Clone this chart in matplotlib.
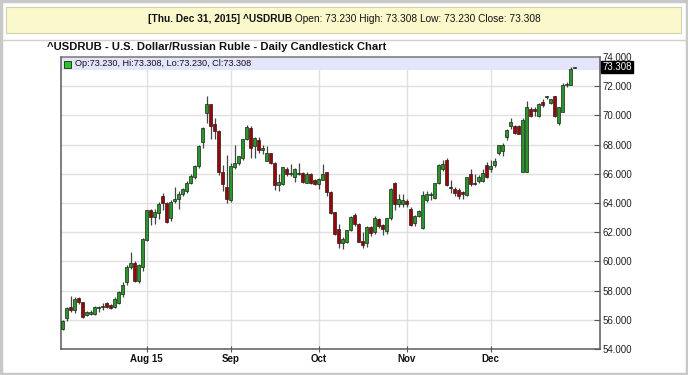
import matplotlib
matplotlib.use("Agg")
import matplotlib.pyplot as plt
from matplotlib.patches import Rectangle
import numpy as np

plt.rcParams['font.family'] = ['Liberation Sans', 'DejaVu Sans']

# ---- data (index = trading day, Jul 3 2015 .. Dec 31 2015) ----
opens = [55.40, 56.15, 56.87, 56.64, 57.50, 57.20, 56.35, 56.40, 56.40, 56.80,
         56.90, 57.15, 57.00, 56.87, 57.15, 57.80, 58.60, 59.60, 59.90, 58.65,
         59.60, 61.45, 63.50, 63.05, 63.30, 64.50, 64.00, 62.95, 64.15, 64.25,
         64.62, 64.80, 65.40, 65.77, 66.55, 68.15, 70.17, 70.75, 69.40, 68.90,
         66.10, 65.10, 64.20, 66.45, 66.75, 67.10, 68.35, 69.15, 67.90, 68.30,
         67.60, 66.90, 67.40, 66.73, 65.20, 65.30, 66.35, 66.00, 65.80, 66.00,
         66.05, 65.40, 66.00, 65.60, 65.30, 65.60, 66.10, 64.75, 63.35, 62.20,
         61.25, 61.30, 62.15, 63.15, 62.55, 61.40, 61.25, 62.35, 62.00, 62.90,
         62.50, 62.05, 62.95, 65.40, 63.90, 63.95, 64.15, 63.60, 62.60, 63.10,
         62.30, 64.20, 64.55, 64.35, 65.35, 66.35, 66.95, 65.10, 64.95, 64.90,
         64.75, 64.55, 66.00, 65.40, 65.50, 65.50, 66.60, 66.35, 66.60, 67.40,
         67.55, 68.50, 69.30, 69.30, 69.30, 66.15, 66.15, 70.45, 70.45, 69.95,
         70.90, 71.25, 70.85, 71.30, 69.45, 70.25, 72.10, 72.10, 73.230]
highs = [56.00, 56.90, 57.60, 57.55, 57.55, 57.25, 56.60, 56.65, 56.95, 56.95,
         57.15, 57.20, 57.05, 57.55, 58.00, 58.60, 59.75, 60.65, 60.00, 59.85,
         61.60, 63.55, 63.60, 63.60, 64.05, 64.67, 64.10, 64.20, 65.10, 64.80,
         65.05, 65.50, 66.00, 66.60, 67.95, 69.20, 71.30, 70.80, 69.80, 69.00,
         66.60, 67.30, 66.75, 67.95, 67.25, 68.40, 69.35, 69.25, 68.55, 68.50,
         68.00, 67.93, 67.45, 66.80, 66.00, 66.50, 66.50, 66.68, 66.40, 66.73,
         66.10, 66.10, 66.05, 65.65, 65.70, 66.64, 66.15, 64.85, 63.40, 62.55,
         61.70, 62.15, 63.10, 63.30, 62.60, 62.00, 62.40, 62.40, 63.10, 63.00,
         62.55, 63.00, 65.00, 65.45, 64.60, 64.60, 64.25, 63.70, 63.20, 63.55,
         64.80, 64.80, 64.75, 65.40, 66.65, 66.95, 67.05, 65.60, 65.10, 65.00,
         64.85, 65.80, 66.35, 66.00, 65.90, 66.30, 66.80, 66.95, 67.10, 68.00,
         68.10, 69.10, 69.80, 69.35, 69.35, 69.85, 71.00, 70.60, 70.60, 70.85,
         71.15, 71.35, 71.15, 71.35, 70.60, 72.20, 72.30, 73.30, 73.308]
lows = [55.30, 55.95, 56.53, 56.50, 57.10, 56.10, 56.25, 56.30, 56.30, 56.55,
        56.65, 56.80, 56.75, 56.80, 57.10, 57.55, 58.40, 59.50, 58.60, 58.55,
        59.35, 61.40, 62.50, 62.55, 62.90, 63.55, 62.60, 62.80, 64.00, 63.60,
        64.50, 64.70, 65.30, 65.65, 66.40, 67.80, 69.50, 68.35, 68.35, 65.95,
        64.85, 64.00, 64.10, 66.30, 66.60, 66.95, 68.30, 67.10, 67.10, 67.40,
        67.35, 66.85, 66.65, 64.86, 64.80, 65.25, 65.82, 65.82, 65.45, 65.95,
        65.40, 65.35, 65.28, 65.20, 64.98, 65.55, 64.50, 63.25, 61.80, 60.90,
        60.85, 61.25, 62.10, 62.40, 61.30, 60.95, 61.00, 61.75, 61.90, 62.30,
        61.80, 61.90, 62.85, 63.55, 63.75, 63.75, 63.75, 62.40, 62.40, 63.05,
        62.25, 64.10, 64.20, 64.30, 65.30, 66.20, 65.15, 64.70, 64.50, 64.30,
        64.30, 64.50, 65.15, 65.20, 65.40, 65.45, 65.70, 66.10, 66.50, 67.30,
        67.20, 68.30, 69.05, 68.70, 68.70, 66.10, 66.10, 69.90, 69.95, 69.90,
        70.60, 71.10, 70.80, 69.90, 69.35, 70.20, 71.95, 72.05, 73.230]
closes = [55.95, 56.80, 56.64, 57.44, 57.20, 56.20, 56.55, 56.55, 56.85, 56.85,
          56.95, 56.85, 56.80, 57.45, 57.90, 58.35, 59.65, 59.90, 58.65, 59.75,
          61.55, 63.50, 63.05, 63.35, 63.95, 63.98, 62.70, 64.10, 64.25, 64.62,
          64.95, 65.35, 65.85, 66.55, 67.90, 69.15, 70.75, 69.26, 68.90, 66.10,
          65.30, 64.30, 66.50, 66.75, 67.20, 68.35, 69.20, 67.80, 68.45, 67.60,
          67.78, 67.40, 66.73, 65.20, 65.43, 66.45, 66.00, 66.05, 66.35, 66.05,
          65.45, 66.00, 65.38, 65.30, 65.65, 66.00, 64.75, 63.30, 61.90, 61.25,
          61.55, 62.15, 63.05, 62.55, 61.35, 61.10, 62.35, 61.95, 62.95, 62.40,
          62.25, 63.00, 64.95, 63.90, 64.27, 64.20, 63.90, 62.50, 63.10, 63.45,
          64.57, 64.60, 64.60, 65.35, 66.60, 66.70, 65.20, 65.05, 64.70, 64.45,
          64.60, 65.75, 65.30, 65.30, 65.80, 66.05, 65.80, 66.55, 66.90, 67.95,
          68.00, 69.00, 69.55, 68.80, 68.75, 69.70, 70.60, 69.95, 70.30, 70.80,
          70.70, 71.30, 71.10, 69.95, 70.55, 72.05, 72.15, 73.20, 73.308]
month_labels = ["Aug 15", "Sep", "Oct", "Nov", "Dec"]
month_start_idx = [21, 42, 64, 86, 107]
y_ticks = [54, 56, 58, 60, 62, 64, 66, 68, 70, 72, 74]
banner_bold = "[Thu. Dec 31, 2015] ^USDRUB"
banner_rest = " Open: 73.230 High: 73.308 Low: 73.230 Close: 73.308"
title = "^USDRUB - U.S. Dollar/Russian Ruble - Daily Candlestick Chart"
legend_text = "Op:73.230, Hi:73.308, Lo:73.230, Cl:73.308"
last_price = 73.308

W, H = 688, 375
fig = plt.figure(figsize=(W / 100, H / 100), dpi=100)
fig.patch.set_facecolor('white')

def fx(px):
    return px / W

def fy(py):
    return 1 - py / H

# outer border
fig.add_artist(Rectangle((0.002, 0.003), 0.996, 0.994, transform=fig.transFigure,
                         fill=False, edgecolor='#c8c8c8', linewidth=2.5))
# banner
fig.add_artist(Rectangle((fx(6), fy(33)), fx(675), 26 / H, transform=fig.transFigure,
                         facecolor='#fbf9cc', edgecolor='#d4d2a8', linewidth=0.8))
# separator line
fig.add_artist(plt.Line2D([fx(2), fx(686)], [fy(40), fy(40)], transform=fig.transFigure,
                          color='#d0d0d0', linewidth=1))
t1 = fig.text(fx(148), fy(19.5), banner_bold, fontsize=7.3, fontweight='bold',
              ha='left', va='center', color='#111')
fig.canvas.draw()
bb = t1.get_window_extent()
fig.text(bb.x1 / fig.dpi / fig.get_figwidth(), fy(19.5), banner_rest, fontsize=7.3,
         ha='left', va='center', color='#111')
fig.text(fx(47), fy(47), title, fontsize=8.1, fontweight='bold', ha='left',
         va='center', color='#111')

# main axes
ax = fig.add_axes([fx(61), fy(349), fx(600 - 61), (349 - 57) / H])
ax.set_xlim(-0.43, 134.33)
ax.set_ylim(54, 74)

opens_a = np.array(opens); closes_a = np.array(closes)
highs_a = np.array(highs); lows_a = np.array(lows)
idx = np.arange(len(opens_a))
up = closes_a >= opens_a

ax.vlines(idx, lows_a, highs_a, color='#454545', linewidth=0.9, zorder=3)
bottoms = np.minimum(opens_a, closes_a)
heights = np.maximum(np.abs(closes_a - opens_a), 0.04)
colors = np.where(up, '#1e9e1e', '#a80000')
ax.bar(idx, heights, bottom=bottoms, width=0.74, color=colors, edgecolor='#202020',
       linewidth=0.5, zorder=4)

# grid
for yv in y_ticks[1:-1]:
    ax.axhline(yv, color='#e0e0e0', linewidth=1, zorder=1)
for xv in month_start_idx:
    ax.axvline(xv, color='#e0e0e0', linewidth=1, zorder=1)

# legend strip
ax.add_patch(Rectangle((0, 1 - 13 / 292), 1, 13 / 292, transform=ax.transAxes,
                       facecolor='#e4e4fa', edgecolor='none', zorder=2))
ax.add_patch(Rectangle((3 / 539, 1 - 10.5 / 292), 7 / 539, 7 / 292,
                       transform=ax.transAxes, facecolor='#1ec81e', edgecolor='#222',
                       linewidth=0.6, zorder=5))
ax.text(14 / 539, 1 - 6.5 / 292, legend_text, transform=ax.transAxes, fontsize=6.6,
        ha='left', va='center', color='#111', zorder=5)

# axes styling
for s in ax.spines.values():
    s.set_color('#5a5a5a')
    s.set_linewidth(1.1)
ax.spines['top'].set_color('#777')
ax.yaxis.tick_right()
ax.set_yticks(y_ticks)
ax.set_yticklabels(["%.3f" % v for v in y_ticks], fontsize=7, color='#222')
ax.tick_params(axis='y', direction='in', length=4, width=0.8, color='#555', pad=2)
ax.set_xticks(month_start_idx)
ax.set_xticklabels(month_labels, fontsize=7, fontweight='bold', color='#111')
ax.tick_params(axis='x', direction='inout', length=4, width=0.8, color='#555', pad=1.5)
ax.set_facecolor('white')

# last price tag
ax.text(1.0 + 2.5 / 539, last_price, "%.3f" % last_price,
        transform=ax.get_yaxis_transform(), fontsize=7, color='white', ha='left',
        va='center', bbox=dict(boxstyle='square,pad=0.12', facecolor='black',
                               edgecolor='black'), zorder=6, clip_on=False)

fig.savefig('out.png', dpi=100)
